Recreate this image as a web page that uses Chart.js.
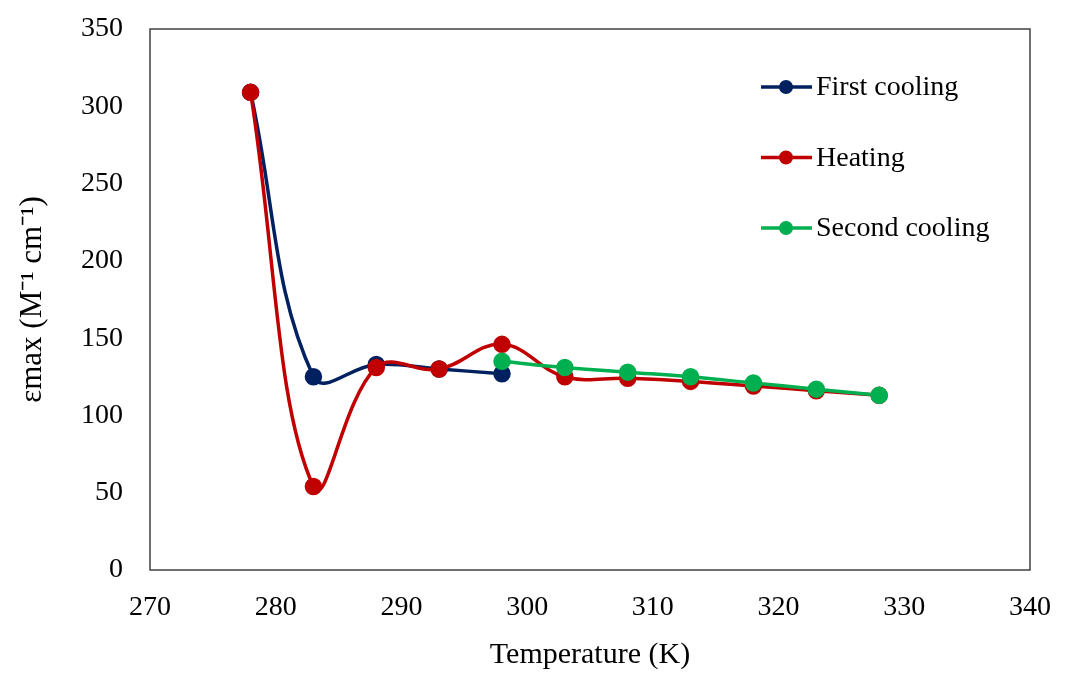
<!DOCTYPE html>
<html>
<head>
<meta charset="utf-8">
<script src="https://cdn.jsdelivr.net/npm/chart.js@4"></script>
<style>
  html, body { margin: 0; padding: 0; background: #fff; }
  #wrap { width: 1066px; height: 673px; }
</style>
</head>
<body>
<div id="wrap"><canvas id="myChart" width="1066" height="673"></canvas></div>
<script>
// 温度 (K)
const tempFirst = [278, 283, 288, 293, 298];
const tempHeating = [278, 283, 288, 293, 298, 303, 308, 313, 318, 323, 328];
const tempSecond = [298, 303, 308, 313, 318, 323, 328];

// εmax の値
const firstCooling = [309, 125, 133, 130, 127];
const heating = [309, 54, 131, 130, 146, 125, 124, 122, 119, 116, 113];
const secondCooling = [135, 131, 128, 125, 121, 117, 113];

const seriesNames = ['First cooling', 'Heating', 'Second cooling'];
const xTicks = [270, 280, 290, 300, 310, 320, 330, 340];
const yTicks = [0, 50, 100, 150, 200, 250, 300, 350];

const colors = ['#002060', '#C00000', '#00B050'];
const font = 'Liberation Serif, Times New Roman, serif';

function toPoints(xs, ys) {
  return xs.map((x, i) => ({ x: x, y: ys[i] }));
}

function makeDataset(label, data, color, order) {
  return {
    label: label,
    data: data,
    borderColor: color,
    backgroundColor: color,
    pointBackgroundColor: color,
    pointBorderColor: color,
    pointRadius: 7,
    pointHoverRadius: 7,
    borderWidth: 3.5,
    tension: 0.4,
    fill: false,
    order: order
  };
}

// 枠線
const frame = {
  id: 'frame',
  beforeDatasetsDraw(chart) {
    const a = chart.chartArea;
    const c = chart.ctx;
    c.save();
    c.strokeStyle = '#404040';
    c.lineWidth = 1.5;
    c.strokeRect(a.left, a.top, a.right - a.left, a.bottom - a.top);
    c.restore();
  }
};

// 凡例（グラフ内に縦並び）
const insideLegend = {
  id: 'insideLegend',
  afterDatasetsDraw(chart) {
    const c = chart.ctx;
    const startY = 87;
    const gap = 70.5;
    c.save();
    chart.data.datasets.forEach((ds, i) => {
      const y = startY + i * gap;
      c.strokeStyle = ds.borderColor;
      c.lineWidth = 3.5;
      c.beginPath();
      c.moveTo(761, y);
      c.lineTo(812, y);
      c.stroke();
      c.fillStyle = ds.borderColor;
      c.beginPath();
      c.arc(786, y, 7, 0, Math.PI * 2);
      c.fill();
      c.fillStyle = '#000';
      c.font = '28px ' + font;
      c.textBaseline = 'middle';
      c.textAlign = 'left';
      c.fillText(ds.label, 816, y + 1);
    });
    c.restore();
  }
};

const ctx = document.getElementById('myChart');
const myChart = new Chart(ctx, {
  type: 'line',
  data: {
    datasets: [
      makeDataset(seriesNames[0], toPoints(tempFirst, firstCooling), colors[0], 3),
      makeDataset(seriesNames[1], toPoints(tempHeating, heating), colors[1], 2),
      makeDataset(seriesNames[2], toPoints(tempSecond, secondCooling), colors[2], 1)
    ]
  },
  options: {
    responsive: false,
    animation: false,
    layout: { padding: { left: 10, right: 36, top: 29, bottom: 0 } },
    plugins: {
      legend: { display: false },
      tooltip: { enabled: false }
    },
    scales: {
      x: {
        type: 'linear',
        min: xTicks[0],
        max: xTicks[xTicks.length - 1],
        afterBuildTicks: function (scale) {
          scale.ticks = xTicks.map(v => ({ value: v }));
        },
        grid: { display: false },
        border: { display: false },
        ticks: {
          color: '#000',
          padding: 13,
          font: { family: font, size: 28 }
        },
        title: {
          display: true,
          text: 'Temperature (K)',
          color: '#000',
          font: { family: font, size: 30 },
          padding: { top: 6, bottom: 0 }
        },
        afterFit: function (scale) { scale.height = 103; }
      },
      y: {
        min: yTicks[0],
        max: yTicks[yTicks.length - 1],
        afterBuildTicks: function (scale) {
          scale.ticks = yTicks.map(v => ({ value: v }));
        },
        grid: { display: false },
        border: { display: false },
        ticks: {
          color: '#000',
          padding: 19,
          font: { family: font, size: 28 }
        },
        title: {
          display: true,
          text: 'εmax (M⁻¹ cm⁻¹)',
          color: '#000',
          font: { family: font, size: 31 },
          padding: { top: 4, bottom: 0 }
        },
        afterFit: function (scale) {
          scale.width = 140;
          scale.paddingTop = 0;
          scale.paddingBottom = 0;
        }
      }
    }
  },
  plugins: [frame, insideLegend]
});
</script>
</body>
</html>
